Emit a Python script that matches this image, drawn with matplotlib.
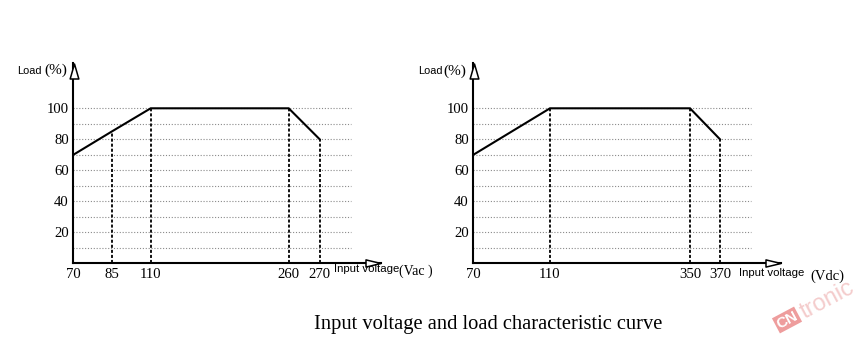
import numpy as np
import matplotlib
matplotlib.use("Agg")
import matplotlib.pyplot as plt
from matplotlib.path import Path

# figure size in pixels
W, H = 861, 340
DPI = 100

# data
ac_volts = [70, 85, 110, 260, 270]
ac_load = [70, 85, 100, 100, 80]
dc_volts = [70, 110, 350, 370]
dc_load = [70, 100, 100, 80]
load_ticks = [20, 40, 60, 80, 100]
grid_levels = [10, 20, 30, 40, 50, 60, 70, 80, 90, 100]

# the drawing is schematic (not to scale): voltage -> pixel offset knots
ac_knots = ([70, 85, 110, 260, 270, 290], [0, 38.4, 77.4, 215.4, 246.4, 307.5])
dc_knots = ([70, 110, 350, 370, 410], [0, 76.7, 216.7, 246.7, 307.5])

serif = "Liberation Serif"
sans = "Liberation Sans"

up_tri = Path([(-0.29, -0.5), (0.29, -0.5), (0, 0.5), (-0.29, -0.5)],
              [Path.MOVETO, Path.LINETO, Path.LINETO, Path.CLOSEPOLY])
right_tri = Path([(-0.5, -0.24), (0.5, 0), (-0.5, 0.24), (-0.5, -0.24)],
                 [Path.MOVETO, Path.LINETO, Path.LINETO, Path.CLOSEPOLY])


def px(x, y):
    return x / W, 1 - y / H


fig = plt.figure(figsize=(W / DPI, H / DPI), dpi=DPI)

origin_y = 263.3
ax_w, ax_h = 307.5, 200
ymax = ax_h / 1.55


def draw_chart(x0, volts, load, knots):
    left, bottom = px(x0, origin_y)
    ax = fig.add_axes([left, bottom, ax_w / W, ax_h / H])
    kv, ku = knots
    ax.set_xscale("function", functions=(
        lambda v: np.interp(v, kv, ku),
        lambda u: np.interp(u, ku, kv)))
    ax.set_xlim(kv[0], kv[-1])
    ax.set_ylim(0, ymax)
    for s in ax.spines.values():
        s.set_visible(False)

    # dotted grid
    ax.hlines(grid_levels, 0, 0.902, transform=ax.get_yaxis_transform(),
              colors="#8a8a8a", linewidth=0.8, linestyles=(0, (1, 1.6)),
              zorder=1)
    # dashed drop lines
    ax.vlines(volts[1:], 0, load[1:], colors="black", linewidth=1.3,
              linestyles=(0, (1.7, 1.1)), zorder=2)
    # curve
    ax.plot(volts, load, color="black", linewidth=1.5, zorder=3,
            solid_joinstyle="miter")

    # axes with open arrowheads
    ax.plot([0, 1], [0, 0], transform=ax.transAxes, color="black",
            linewidth=1.5, clip_on=False, zorder=4)
    ax.plot([0, 0], [0, 1], transform=ax.transAxes, color="black",
            linewidth=1.5, clip_on=False, zorder=4)
    ax.plot([0.002], [0.9625], transform=ax.transAxes, marker=up_tri,
            markersize=10.8, markerfacecolor="white", markeredgecolor="black",
            markeredgewidth=1.1, clip_on=False, zorder=5)
    ax.plot([0.976], [0], transform=ax.transAxes, marker=right_tri,
            markersize=10.8, markerfacecolor="white", markeredgecolor="black",
            markeredgewidth=1.1, clip_on=False, zorder=5)

    ax.set_xticks(volts)
    ax.set_xticklabels([str(v) for v in volts])
    ax.set_yticks(load_ticks)
    ax.set_yticklabels([str(v) for v in load_ticks])
    ax.tick_params(length=0, labelsize=10.6)
    ax.tick_params(axis="x", pad=3.6)
    ax.tick_params(axis="y", pad=3.2)
    for lab in ax.get_xticklabels() + ax.get_yticklabels():
        lab.set_fontfamily(serif)
    ax.xaxis.set_minor_locator(matplotlib.ticker.NullLocator())
    return ax


draw_chart(73.3, ac_volts, ac_load, ac_knots)
draw_chart(473.3, dc_volts, dc_load, dc_knots)

# axis captions
fig.text(*px(17, 70.5), "Load", family=sans, fontsize=7.9, va="center")
fig.text(*px(44, 70.5), "(%)", family=serif, fontsize=11, va="center")
fig.text(*px(418.5, 71), "Load", family=sans, fontsize=7.9, va="center")
fig.text(*px(443, 71), "(%)", family=serif, fontsize=11, va="center")

fig.text(*px(334, 268.5), "Input voltage", family=sans, fontsize=8.2,
         va="center")
fig.text(*px(399, 271.5), "(Vac )", family=serif, fontsize=10, va="center")
fig.text(*px(739, 273.5), "Input voltage", family=sans, fontsize=8.2,
         va="center")
fig.text(*px(810, 276.5), "(Vdc)", family=serif, fontsize=10.5, va="center")

# caption
fig.text(*px(488, 325), "Input voltage and load characteristic curve",
         family=serif, fontsize=14.8, ha="center", va="center")

# watermark
fig.text(*px(787, 320), "CN", family=sans, fontsize=11, fontweight="bold",
         color="white", rotation=28, ha="center", va="center",
         bbox=dict(boxstyle="square,pad=0.1", facecolor="#ee9d9d",
                   edgecolor="none"))
fig.text(*px(827, 300), "tronic", family=sans, fontsize=17,
         color="#f4cccc", rotation=28, ha="center", va="center")

fig.savefig("out.png", dpi=DPI)
